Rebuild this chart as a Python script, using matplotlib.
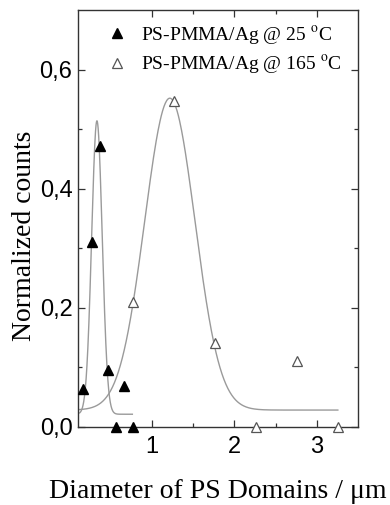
import numpy as np
import matplotlib
matplotlib.use("Agg")
import matplotlib.pyplot as plt
from matplotlib.ticker import FixedLocator

plt.rcParams['mathtext.fontset'] = 'stix'

# data: 25 C (filled triangles)
x25 = [0.165, 0.265, 0.365, 0.46, 0.565, 0.66, 0.765]
y25 = [0.063, 0.311, 0.471, 0.095, 0.0, 0.069, 0.0]
# data: 165 C (open triangles)
x165 = [0.765, 1.26, 1.765, 2.26, 2.76, 3.255]
y165 = [0.209, 0.547, 0.140, 0.0, 0.111, 0.0]

# gaussian fit parameters (y0, A, xc, sigma, xstart, xend)
fit25 = dict(y0=0.021, A=0.493, xc=0.33, w=0.064, x0=0.12, x1=0.76)
fit165 = dict(y0=0.028, A=0.524, xc=1.215, w=0.305, x0=0.10, x1=3.255)

yticks = [0.0, 0.2, 0.4, 0.6]
ytick_labels = ["0,0", "0,2", "0,4", "0,6"]
xticks = [1, 2, 3]
xtick_labels = ["1", "2", "3"]

def gauss(p):
    xs = np.linspace(p['x0'], p['x1'], 400)
    return xs, p['y0'] + p['A'] * np.exp(-(xs - p['xc'])**2 / (2 * p['w']**2))

fig = plt.figure(figsize=(3.9, 5.05), dpi=100)
ax = fig.add_axes([0.2, 0.155, 0.718, 0.825])

for p in (fit25, fit165):
    xs, ys = gauss(p)
    ax.plot(xs, ys, color='#9a9a9a', lw=1.0, zorder=1)

ax.plot(x25, y25, linestyle='none', marker='^', ms=7.5, color='black',
        label='PS-PMMA/Ag @ 25 $^{\\rm o}$C', zorder=3, clip_on=False)
ax.plot(x165, y165, linestyle='none', marker='^', ms=7.5, mfc='white',
        mec='#555555', mew=0.9, label='PS-PMMA/Ag @ 165 $^{\\rm o}$C', zorder=3, clip_on=False)

ax.set_xlim(0.1, 3.5)
ax.set_ylim(0.0, 0.70)
ax.xaxis.set_major_locator(FixedLocator(xticks))
ax.set_xticklabels(xtick_labels)
ax.xaxis.set_minor_locator(FixedLocator([1.5, 2.5]))
ax.yaxis.set_major_locator(FixedLocator(yticks))
ax.set_yticklabels(ytick_labels)
ax.yaxis.set_minor_locator(FixedLocator([0.1, 0.3, 0.5]))

ax.tick_params(which='both', direction='in', top=True, right=True,
               labelsize=17, width=0.9, color='#333333')
ax.tick_params(which='major', length=5)
ax.tick_params(which='minor', length=3)
ax.tick_params(axis='y', pad=4)
ax.tick_params(axis='x', pad=7)
for lbl in ax.get_xticklabels() + ax.get_yticklabels():
    lbl.set_fontfamily('Liberation Sans')
for s in ax.spines.values():
    s.set_linewidth(1.0)
    s.set_color('#333333')

ax.set_xlabel('Diameter of PS Domains / μm', fontfamily='Liberation Serif',
              fontsize=20)
ax.set_ylabel('Normalized counts', fontfamily='Liberation Serif',
              fontsize=20)
ax.xaxis.set_label_coords(0.5, -0.1255)
ax.yaxis.set_label_coords(-0.145, 0.458)

leg = ax.legend(loc='upper left', bbox_to_anchor=(0.05, 1.0), frameon=False,
                prop={'family': 'Liberation Serif', 'size': 14},
                handletextpad=0.6, labelspacing=0.35, handlelength=1.2,
                borderaxespad=0.3)

fig.savefig('out.png', dpi=100)
